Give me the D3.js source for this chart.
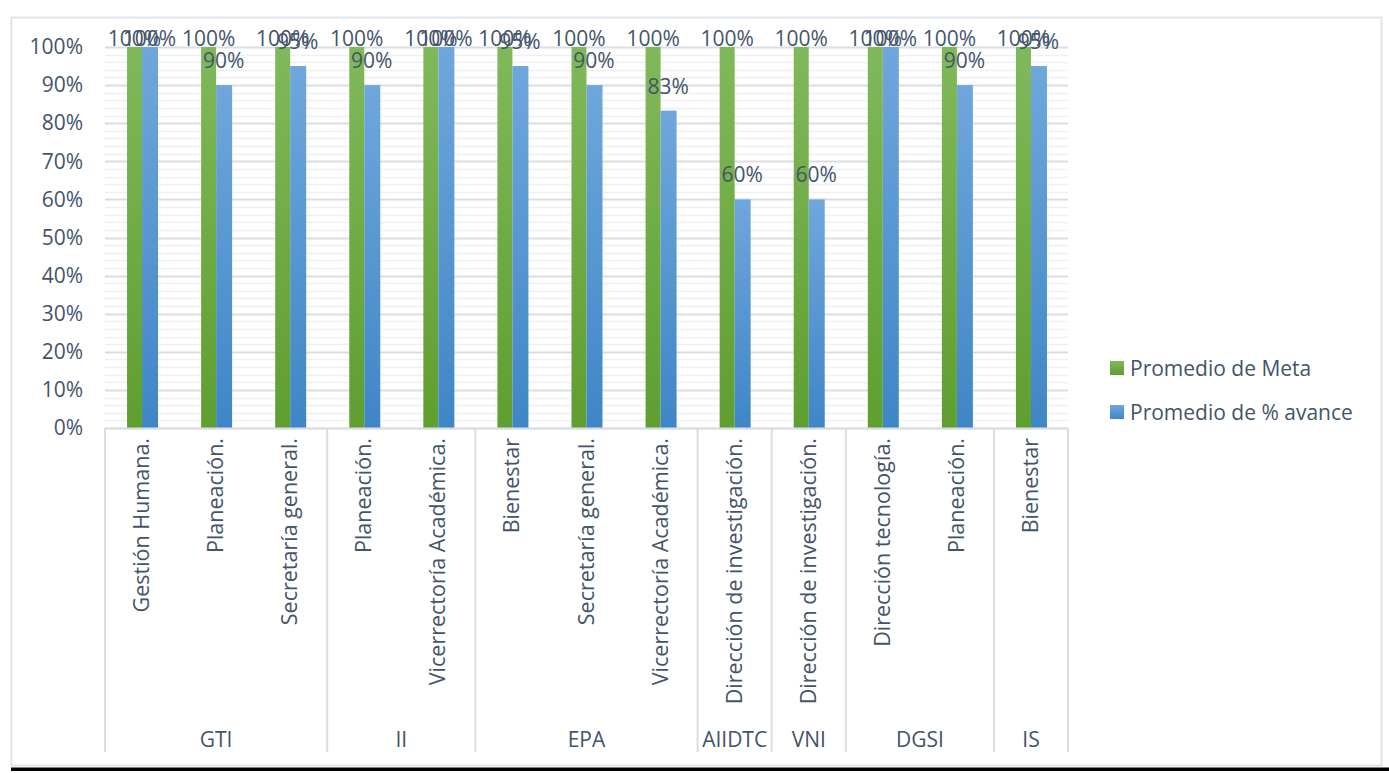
<!DOCTYPE html>
<html><head><meta charset="utf-8">
<script src="https://cdn.jsdelivr.net/npm/d3@7"></script>
<style>
body{margin:0;background:#fff;}
svg text{font-family:"Open Sans","Noto Sans",sans-serif;fill:#44546a;}
</style></head>
<body><svg id="c" width="1389" height="773"></svg>
<script>
const categories=["Gestión Humana.","Planeación.","Secretaría general.","Planeación.","Vicerrectoría Académica.","Bienestar","Secretaría general.","Vicerrectoría Académica.","Dirección de investigación.","Dirección de investigación.","Dirección tecnología.","Planeación.","Bienestar"];
const groups=["GTI","II","EPA","AIIDTC","VNI","DGSI","IS"];
const groupSizes=[3,2,3,1,1,2,1];
const meta=[1,1,1,1,1,1,1,1,1,1,1,1,1];
const avance=[1,0.9,0.95,0.9,1,0.95,0.9,0.833,0.6,0.6,1,0.9,0.95];
const seriesNames=["Promedio de Meta","Promedio de % avance"];
const yTicks=[0,0.1,0.2,0.3,0.4,0.5,0.6,0.7,0.8,0.9,1];

const svg=d3.select("#c");
const L=105,R=1068,T=47,B=428;
const x=d3.scaleBand().domain(d3.range(categories.length)).range([L,R]);
const y=d3.scaleLinear().domain([0,1]).range([B,T]);
const bw=15;

const defs=svg.append("defs");
function grad(id,c1,c2){const g=defs.append("linearGradient").attr("id",id).attr("x1",0).attr("y1",0).attr("x2",0).attr("y2",1).attr("gradientUnits","objectBoundingBox");
g.append("stop").attr("offset","0%").attr("stop-color",c1);g.append("stop").attr("offset","100%").attr("stop-color",c2);}
grad("gG","#80b95b","#5f9e2f");
grad("gB","#6fa7dc","#3f86c6");

// outer border
svg.append("rect").attr("x",11.5).attr("y",17.5).attr("width",1370).attr("height",748).attr("fill","none").attr("stroke","#dfe3ea").attr("stroke-width",2);
svg.append("rect").attr("x",11).attr("y",767.5).attr("width",1378).attr("height",3.5).attr("fill","#000");

// gridlines
const minor=d3.range(0,1.0001,0.02).filter(v=>Math.round(v*100)%10!==0);
svg.append("g").selectAll("line").data(minor).join("line")
 .attr("x1",L).attr("x2",R).attr("y1",d=>Math.round(y(d))+0.5).attr("y2",d=>Math.round(y(d))+0.5)
 .attr("stroke","#eef0f3").attr("stroke-width",1.5);
svg.append("g").selectAll("line").data(yTicks).join("line")
 .attr("x1",L).attr("x2",R).attr("y1",d=>Math.round(y(d))+0.5).attr("y2",d=>Math.round(y(d))+0.5)
 .attr("stroke","#dadee4").attr("stroke-width",2);

// y axis labels
const yAxis=d3.axisLeft(y).tickValues(yTicks).tickFormat(d3.format(".0%")).tickSize(0).tickPadding(22);
const ya=svg.append("g").attr("transform",`translate(${L},0)`).call(yAxis);
ya.select(".domain").remove();
ya.selectAll("text").attr("font-size",21).style("fill","#44546a").attr("font-family","'Open Sans',sans-serif");

// bars
svg.append("g").selectAll("rect").data(meta).join("rect")
 .attr("x",(d,i)=>x(i)+x.bandwidth()/2-bw).attr("width",bw)
 .attr("y",d=>y(d)).attr("height",d=>B-y(d)).attr("fill","url(#gG)");
svg.append("g").selectAll("rect").data(avance).join("rect")
 .attr("x",(d,i)=>x(i)+x.bandwidth()/2).attr("width",bw+1)
 .attr("y",d=>y(d)).attr("height",d=>B-y(d)).attr("fill","url(#gB)");

// data labels
const fmt=d3.format(".0%");
svg.append("g").selectAll("text").data(meta).join("text")
 .attr("x",(d,i)=>x(i)+x.bandwidth()/2-bw/2).attr("y",d=>Math.max(y(d)-17,46))
 .attr("text-anchor","middle").attr("font-size",21).text(d=>fmt(d));
svg.append("g").selectAll("text").data(avance).join("text")
 .attr("x",(d,i)=>x(i)+x.bandwidth()/2+bw/2).attr("y",d=>Math.max(y(d)-17,46))
 .attr("text-anchor","middle").attr("font-size",21).text(d=>fmt(d));

// axis baseline
svg.append("line").attr("x1",L).attr("x2",R).attr("y1",B+0.5).attr("y2",B+0.5).attr("stroke","#dadee4").attr("stroke-width",2);

// category labels (rotated)
svg.append("g").selectAll("text").data(categories).join("text")
 .attr("transform",(d,i)=>`translate(${x(i)+x.bandwidth()/2+7},${B+10}) rotate(-90)`)
 .attr("text-anchor","end").attr("font-size",21.5).text(d=>d);

// group separators & labels
let start=0;const bounds=[0];
groupSizes.forEach(s=>{start+=s;bounds.push(start);});
svg.append("g").selectAll("line").data(bounds).join("line")
 .attr("x1",d=>d<categories.length?x(d):R).attr("x2",d=>d<categories.length?x(d):R)
 .attr("y1",B).attr("y2",752).attr("stroke","#dadee4").attr("stroke-width",2);
svg.append("g").selectAll("text").data(groups).join("text")
 .attr("x",(d,i)=>{const a=bounds[i],b=bounds[i+1];const xa=x(a);const xb=b<categories.length?x(b):R;return (xa+xb)/2;})
 .attr("y",747).attr("text-anchor","middle").attr("font-size",21).text(d=>d);

// legend
const lg=svg.append("g");
const lc=["url(#gG)","url(#gB)"];
seriesNames.forEach((n,i)=>{
 lg.append("rect").attr("x",1110).attr("y",361+i*44).attr("width",14).attr("height",14).attr("fill",lc[i]);
 lg.append("text").attr("x",1130).attr("y",376+i*44).attr("font-size",21).text(n);
});
</script></body></html>
